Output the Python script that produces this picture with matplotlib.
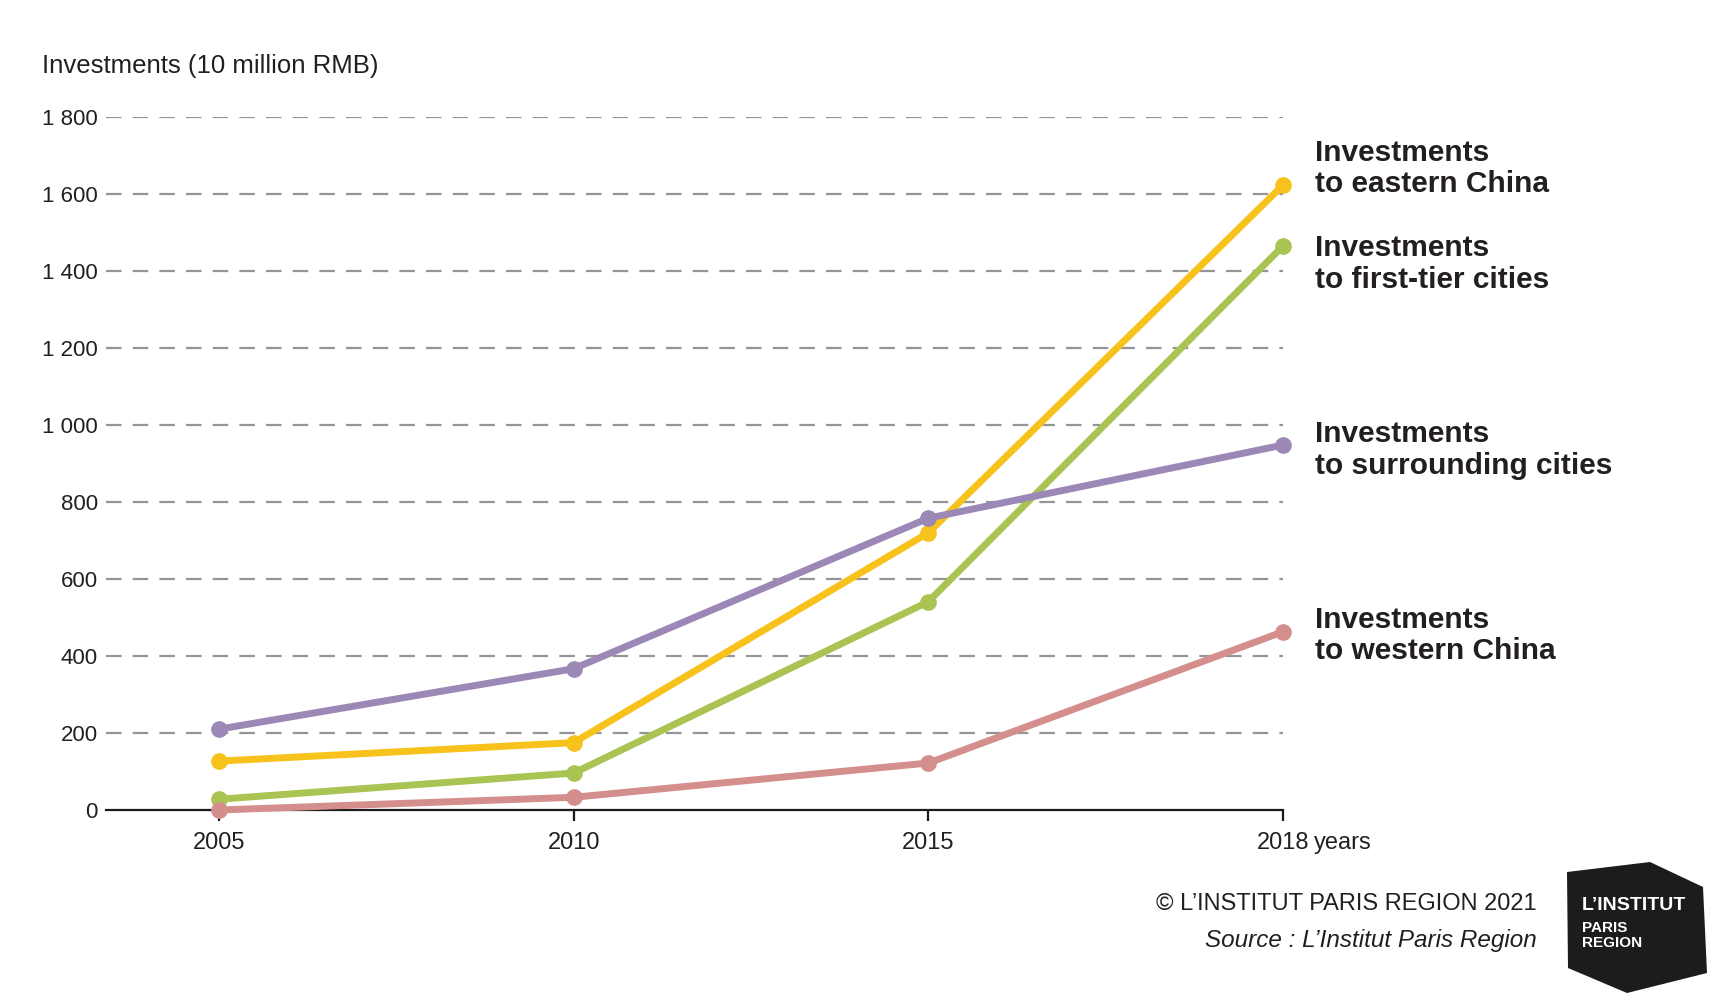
import matplotlib
matplotlib.use("Agg")
import matplotlib.pyplot as plt
from matplotlib.patches import Polygon
from matplotlib.font_manager import fontManager

names = {f.name for f in fontManager.ttflist}
NARROW = "Liberation Sans Narrow" if "Liberation Sans Narrow" in names else "Liberation Sans"
plt.rcParams['font.family'] = [NARROW, 'DejaVu Sans']

# ---------------- data ----------------
years = ["2005", "2010", "2015", "2018"]
eastern_china = [127, 175, 720, 1623]
first_tier_cities = [28, 96, 541, 1465]
surrounding_cities = [210, 367, 758, 948]
western_china = [0, 33, 122, 463]

series_names = ["Investments\nto eastern China",
                "Investments\nto first-tier cities",
                "Investments\nto surrounding cities",
                "Investments\nto western China"]
series_values = [eastern_china, first_tier_cities, surrounding_cities, western_china]
series_colors = ["#f7c21b", "#a9c452", "#9c88b6", "#d48f8d"]
label_y = [1667, 1418, 935, 453]

yticks = [0, 200, 400, 600, 800, 1000, 1200, 1400, 1600, 1800]
ytick_labels = ["0", "200", "400", "600", "800", "1 000", "1 200", "1 400", "1 600", "1 800"]

TEXT = "#231f20"

fig = plt.figure(figsize=(17.19, 10), dpi=100)
W, H = 1719, 1000
left_px, right_px, top_px, bot_px = 106, 1283, 117, 810
ax = fig.add_axes([left_px / W, 1 - bot_px / H, (right_px - left_px) / W, (bot_px - top_px) / H])

x = list(range(len(years)))
for vals, col in zip(series_values, series_colors):
    ax.plot(x, vals, color=col, lw=5, marker="o", ms=11, clip_on=False,
            solid_capstyle="round", zorder=3)

ax.set_xlim(-(219 - left_px) / ((right_px - 219) / 3), 3)
ax.set_ylim(0, 1800)

for sp in ["top", "right", "left"]:
    ax.spines[sp].set_visible(False)
ax.spines["bottom"].set_color("#1a1a1a")
ax.spines["bottom"].set_linewidth(1.6)
ax.spines["bottom"].set_zorder(2)

ax.set_yticks(yticks)
ax.set_yticklabels(ytick_labels)
ax.tick_params(axis="y", length=0, pad=6, labelsize=16, labelcolor=TEXT)
ax.set_xticks(x)
ax.set_xticklabels(years)
ax.tick_params(axis="x", length=8, width=1.6, color="#1a1a1a", pad=8,
               labelsize=17, labelcolor=TEXT)

for yv in yticks[1:]:
    ax.axhline(yv, color="#959595", lw=1.6, dashes=(7, 5), zorder=1)

ax.annotate("years", xy=(3, 0), xycoords="data", xytext=(22, -16),
            textcoords="offset points", ha="left", va="top", fontsize=17,
            color=TEXT, annotation_clip=False)

for name, ly in zip(series_names, label_y):
    ax.text(3.09, ly, name, ha="left", va="center", fontsize=21.5, fontweight="bold",
            color=TEXT, linespacing=1.15, clip_on=False)

fig.text(42 / W, 1 - 66 / H, "Investments (10 million RMB)", ha="left", va="center",
         fontsize=18.5, color=TEXT)

fig.text(1537 / W, 1 - 904 / H, "\u00a9 L\u2019INSTITUT PARIS REGION 2021", ha="right",
         va="center", fontsize=17, color=TEXT)
fig.text(1537 / W, 1 - 941 / H, "Source : L\u2019Institut Paris Region", ha="right",
         va="center", fontsize=17.5, style="italic", color=TEXT)

# logo
logo_px = [(1567, 872), (1650, 862), (1703, 887), (1707, 973), (1627, 993), (1568, 968)]
poly = Polygon([(px / W, 1 - py / H) for px, py in logo_px], closed=True,
               transform=fig.transFigure, facecolor="#1c1c1c", edgecolor="none")
fig.patches.append(poly)
fig.text(1582 / W, 1 - 905 / H, "L\u2019INSTITUT", ha="left", va="center",
         fontsize=14, fontweight="bold", color="white")
fig.text(1582 / W, 1 - 928 / H, "PARIS", ha="left", va="center",
         fontsize=11, fontweight="bold", color="white")
fig.text(1582 / W, 1 - 943 / H, "REGION", ha="left", va="center",
         fontsize=11, fontweight="bold", color="white")

fig.savefig("out.png", dpi=100, facecolor="white")
